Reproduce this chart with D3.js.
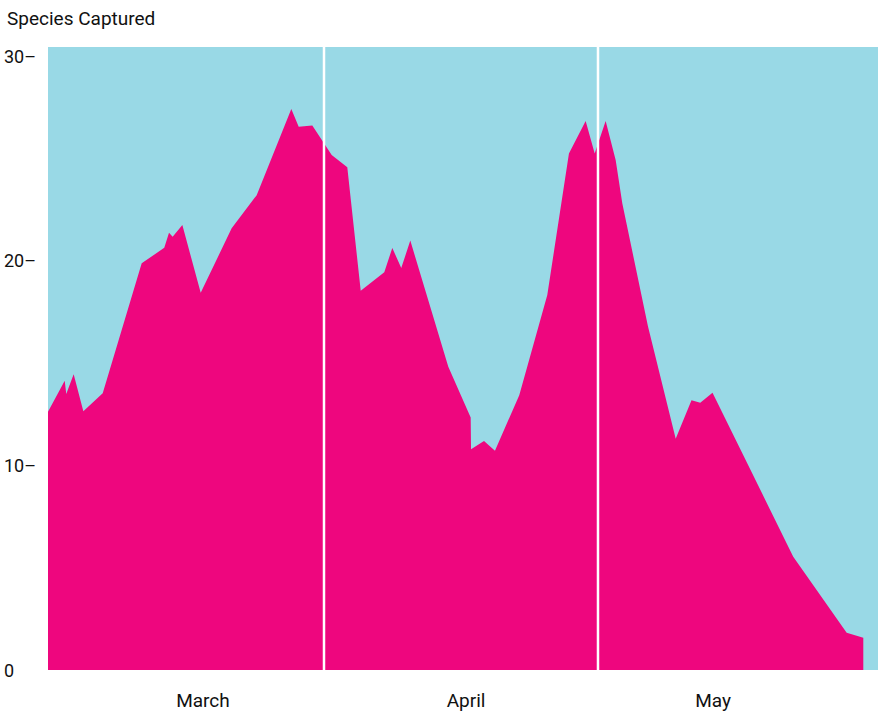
<!DOCTYPE html>
<html>
<head>
<meta charset="utf-8">
<script src="https://cdn.jsdelivr.net/npm/d3@7"></script>
<style>
  html, body { margin: 0; padding: 0; background: #ffffff; }
  svg { display: block; }
  text { font-family: Roboto, "Liberation Sans", sans-serif; fill: #111; }
</style>
</head>
<body>
<svg id="chart" width="878" height="712"></svg>
<script>
// Day of season (0 = 1 March, fractional days) and species captured
const days = [0.78, 2.61, 2.78, 3.59, 4.65, 6.77, 11.04, 13.51, 14.03, 14.43, 15.49, 17.50,
  20.89, 23.63, 27.42, 28.23, 29.72, 31.84, 33.55, 35.02, 37.60, 38.48, 39.46, 40.45,
  44.61, 47.06, 47.10, 48.52, 49.72, 52.38, 55.45, 57.82, 59.65, 60.64, 61.84, 62.94,
  63.66, 66.47, 69.51, 71.24, 72.20, 73.54, 82.38, 88.23, 90.05];
const species = [12.62, 14.13, 13.48, 14.45, 12.64, 13.52, 19.87, 20.63, 21.36, 21.17, 21.74, 18.43,
  21.58, 23.20, 27.41, 26.54, 26.61, 25.16, 24.56, 18.53, 19.44, 20.62, 19.64, 20.98,
  14.82, 12.34, 10.78, 11.19, 10.71, 13.43, 18.32, 25.24, 26.82, 25.24, 26.82, 24.91,
  22.80, 16.80, 11.30, 13.18, 13.06, 13.55, 5.53, 1.82, 1.58];

// Month boundaries (day of season) and month labels
const monthStarts = [31, 61];
const monthNames = ["March", "April", "May"];
const monthLabelDays = [17.75, 46.55, 73.6];

const yTicks = [0, 10, 20, 30];
const yTickLabels = ["0", "10–", "20–", "30–"];
const title = "Species Captured";

const colors = { bg: "#99d9e6", area: "#ee067e", divider: "#ffffff" };

const svg = d3.select("#chart");
const margin = { left: 48, right: 0, top: 47, bottom: 42 };
const W = 878, H = 712;

const x = d3.scaleLinear().domain([0.78, 91.66]).range([margin.left, W - margin.right]);
const y = d3.scaleLinear().domain([0, 30.44]).range([H - margin.bottom, margin.top]);

const data = days.map((d, i) => ({ day: d, v: species[i] }));

svg.append("rect")
  .attr("x", x.range()[0]).attr("y", y.range()[1])
  .attr("width", x.range()[1] - x.range()[0])
  .attr("height", y.range()[0] - y.range()[1])
  .attr("fill", colors.bg);

const area = d3.area()
  .x(d => x(d.day))
  .y0(y(0))
  .y1(d => y(d.v));

svg.append("path").datum(data).attr("d", area).attr("fill", colors.area);

svg.selectAll("line.div").data(monthStarts).join("line")
  .attr("class", "div")
  .attr("x1", d => x(d)).attr("x2", d => x(d))
  .attr("y1", y.range()[1]).attr("y2", y.range()[0])
  .attr("stroke", colors.divider).attr("stroke-width", 2.5);

// Y tick labels
svg.selectAll("text.ytick").data(yTicks).join("text")
  .attr("class", "ytick")
  .attr("x", 4)
  .attr("y", d => y(d) + 6.5)
  .attr("font-size", 18)
  .text((d, i) => yTickLabels[i]);

// Month labels
svg.selectAll("text.month").data(monthNames).join("text")
  .attr("class", "month")
  .attr("x", (d, i) => x(monthLabelDays[i]))
  .attr("y", 707)
  .attr("text-anchor", "middle")
  .attr("font-size", 19)
  .text(d => d);

// Title
svg.append("text")
  .attr("x", 7).attr("y", 25)
  .attr("font-size", 19)
  .text(title);
</script>
</body>
</html>
